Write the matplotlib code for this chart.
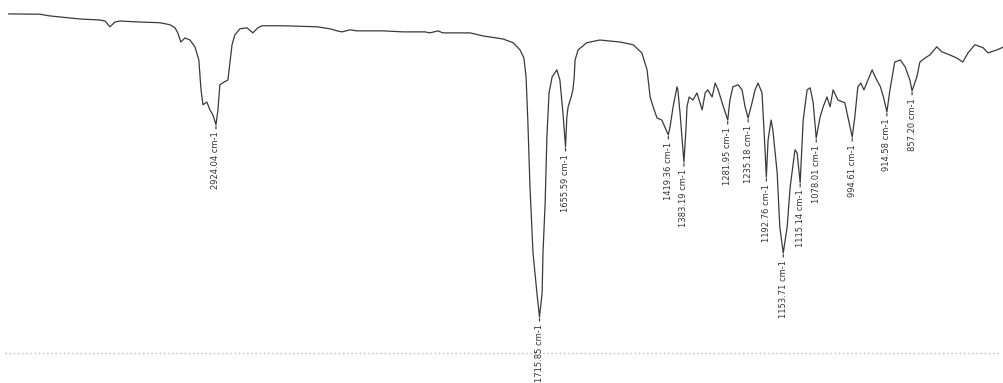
import numpy as np
import matplotlib.pyplot as plt

# IR spectrum (wavenumber in cm-1, transmittance in %)
wavenumber = [3880, 3736, 3690, 3644, 3551, 3459, 3436, 3413, 3390, 3367, 3275, 3183,
              3136, 3113, 3100, 3086, 3067, 3044, 3021, 3003, 2993, 2984, 2966, 2952,
              2938, 2924, 2915, 2906, 2887, 2869, 2850, 2837, 2814, 2781, 2754, 2731,
              2712, 2698, 2615, 2458, 2398, 2366, 2343, 2306, 2274, 2154, 2062, 1980,
              1969, 1950, 1939, 1876, 1846, 1800, 1777, 1761, 1752, 1747, 1743, 1738,
              1731, 1722, 1716, 1710, 1708, 1703, 1699, 1694, 1687, 1676, 1669, 1662,
              1656, 1653, 1650, 1643, 1639, 1636, 1634, 1627, 1607, 1577, 1530, 1500,
              1480, 1468, 1461, 1454, 1445, 1434, 1419, 1415, 1408, 1399, 1397, 1392,
              1383, 1378, 1376, 1371, 1362, 1353, 1341, 1334, 1328, 1318, 1311, 1304,
              1295, 1282, 1277, 1270, 1258, 1249, 1242, 1235, 1226, 1219, 1212, 1203,
              1196, 1193, 1189, 1182, 1178, 1168, 1162, 1154, 1145, 1138, 1127, 1122,
              1115, 1108, 1099, 1092, 1085, 1078, 1069, 1062, 1053, 1046, 1039, 1028,
              1012, 1005, 995, 989, 982, 975, 968, 949, 942, 930, 923, 915,
              908, 897, 884, 873, 862, 857, 846, 839, 827, 816, 800, 788,
              770, 754, 740, 728, 712, 693, 682, 661, 645]
transmittance = [100.0, 99.9, 99.4, 99.1, 98.5, 98.2, 97.9, 96.2, 97.6, 97.9, 97.6, 97.4,
                 96.8, 95.9, 94.4, 91.7, 92.9, 92.3, 90.3, 86.4, 77.6, 73.2, 74.0, 71.7,
                 70.2, 67.3, 71.7, 79.1, 79.9, 80.5, 90.9, 93.8, 95.6, 95.9, 94.4, 95.9,
                 96.5, 96.5, 96.5, 96.2, 95.6, 95.0, 94.7, 95.3, 95.0, 95.0, 94.7, 94.7,
                 94.4, 95.0, 94.4, 94.4, 93.5, 92.6, 91.5, 89.4, 87.0, 81.4, 68.7, 49.0,
                 29.5, 17.7, 10.6, 17.7, 29.5, 44.3, 63.7, 76.7, 81.4, 83.5, 80.5, 70.8,
                 60.8, 69.6, 72.6, 75.5, 77.6, 81.4, 86.4, 89.4, 91.5, 92.3, 91.7, 90.9,
                 88.5, 83.5, 75.5, 72.6, 69.3, 68.7, 64.3, 66.7, 72.6, 78.5, 77.6, 70.8,
                 56.3, 66.7, 72.6, 75.5, 74.6, 76.7, 71.7, 76.7, 77.6, 75.5, 79.6, 77.6,
                 73.8, 68.7, 74.6, 78.5, 79.1, 77.6, 72.6, 69.3, 73.8, 77.6, 79.6, 76.7,
                 59.9, 51.9, 62.8, 68.7, 65.8, 53.1, 37.2, 29.5, 37.2, 49.0, 59.9, 59.0,
                 50.2, 68.7, 77.6, 78.2, 73.8, 63.4, 69.6, 72.6, 75.5, 72.6, 77.6, 74.6,
                 73.8, 69.6, 63.7, 69.6, 78.5, 79.6, 77.6, 83.5, 81.4, 78.5, 75.5, 71.1,
                 77.6, 85.8, 86.4, 84.4, 80.5, 77.3, 81.4, 85.8, 87.0, 87.9, 90.3, 88.8,
                 87.9, 87.0, 85.8, 88.5, 90.9, 90.0, 88.5, 89.4, 90.3]

peak_positions = [2924, 1716, 1656, 1419, 1383, 1282, 1235, 1193, 1154, 1115, 1078, 995, 915, 857]
peak_labels = ['2924.04 cm-1', '1715.85 cm-1', '1655.59 cm-1', '1419.36 cm-1', '1383.19 cm-1',
               '1281.95 cm-1', '1235.18 cm-1', '1192.76 cm-1', '1153.71 cm-1', '1115.14 cm-1',
               '1078.01 cm-1', '994.61 cm-1', '914.58 cm-1', '857.20 cm-1']


# FTIR style x axis: the region above 2000 cm-1 is compressed by half
def fwd(w):
    w = np.asarray(w, dtype=float)
    return np.where(w > 2000, 2000 + (w - 2000) / 2, w)


def inv(u):
    u = np.asarray(u, dtype=float)
    return np.where(u > 2000, 2000 + (u - 2000) * 2, u)


fig = plt.figure(figsize=(10.04, 3.83), dpi=100)
ax = fig.add_axes([0, 0, 1, 1])
ax.set_xscale('function', functions=(fwd, inv))

ax.axhline(0, xmin=0.005, xmax=0.995, color='#b8b8b8', lw=1, linestyle=(0, (1, 2)))
ax.plot(wavenumber, transmittance, color='#3a3a3a', lw=0.9)

w_inc = np.array(wavenumber)[::-1]
t_inc = np.array(transmittance)[::-1]
for pos, lab in zip(peak_positions, peak_labels):
    t = np.interp(pos, w_inc, t_inc)
    ax.annotate(lab, xy=(pos, t), xytext=(0, -5), textcoords='offset points',
                rotation=90, ha='center', va='top', fontsize=6, color='#333333',
                arrowprops=dict(arrowstyle='-', color='#333333', lw=0.8,
                                shrinkA=0, shrinkB=1))

ax.set_xlim(3920, 645)
ax.set_ylim(-8.85, 104.1)
ax.axis('off')

fig.savefig('out.png', dpi=100)
